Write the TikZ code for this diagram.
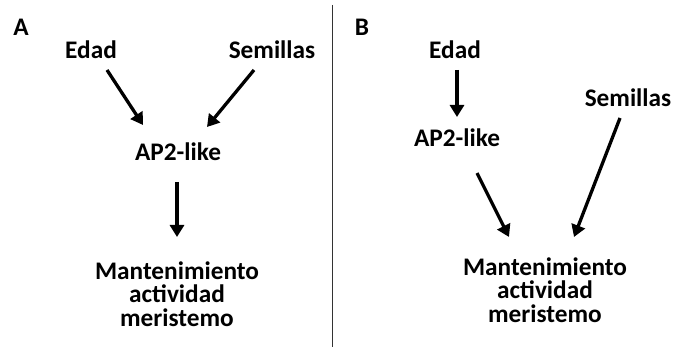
\documentclass[tikz,border=0pt]{standalone}
\usepackage{fontspec}
\setmainfont{Carlito}
\usetikzlibrary{arrows.meta,calc}
\begin{document}
\begin{tikzpicture}[x=1pt,y=-1pt,
  lbl/.style={inner sep=0pt,font=\fontsize{25.3}{23.5}\selectfont\bfseries,align=center},
  arr/.style={line width=3.3pt,-{Triangle[length=12pt,width=14pt]}}]
\useasboundingbox (0,0) rectangle (677,347);
\fill[white] (0,0) rectangle (677,347);
% divider
\draw[line width=1pt,black!80] (332,5) coordinate (dtop) -- (332,347) coordinate (dbot);
% panel A
\node[lbl] (labA) at (21,27) {A};
\node[lbl] (edadA) at (91,50) {Edad};
\node[lbl] (semA) at (272,50) {Semillas};
\node[lbl] (ap2A) at (178,152) {AP2-like};
\node[lbl] (mantA) at (177,294) {Mantenimiento\\actividad\\meristemo};
\draw[arr] ($(edadA)+(16,20)$) -- ($(ap2A)+(-35,-27)$);
\draw[arr] ($(semA)+(-18,20)$) -- ($(ap2A)+(29,-25)$);
\draw[arr] ($(ap2A)+(-1,30)$) -- ($(mantA)+(0,-57)$);
% panel B
\node[lbl] (labB) at (362,27) {B};
\node[lbl] (edadB) at (455,50) {Edad};
\node[lbl] (semB) at (628,98) {Semillas};
\node[lbl] (ap2B) at (457,138) {AP2-like};
\node[lbl] (mantB) at (545,290) {Mantenimiento\\actividad\\meristemo};
\draw[arr] ($(edadB)+(2,20)$) -- ($(ap2B)+(0,-21)$);
\draw[arr] ($(ap2B)+(20,35)$) -- ($(mantB)+(-36,-53)$);
\draw[arr] ($(semB)+(-8,20)$) -- ($(mantB)+(29,-53)$);
\end{tikzpicture}
\end{document}
